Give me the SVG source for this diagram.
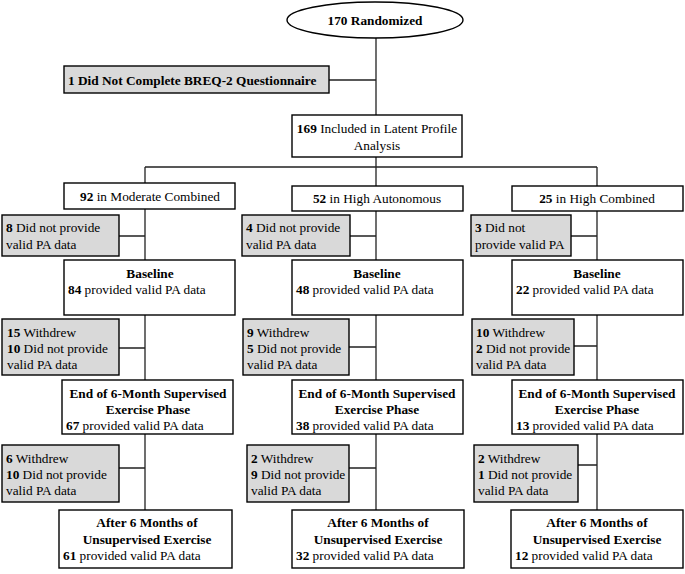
<svg xmlns="http://www.w3.org/2000/svg" width="685" height="574" viewBox="0 0 685 574" font-family="'Liberation Serif', 'Times New Roman', 'DejaVu Serif', serif">
<style>
text{font-family:'Liberation Serif','Times New Roman','DejaVu Serif',serif;font-size:13.3px;fill:#000}
.b{font-weight:bold}
.c{text-anchor:middle}
.box{fill:#fff;stroke:#000;stroke-width:1.4}
.gray{fill:#d9d9d9;stroke:#000;stroke-width:1.4}
.ln{stroke:#222;stroke-width:1.3;fill:none}
</style>
<rect width="685" height="574" fill="#fff"/>
<g id="connectors">
<path class="ln" d="M376 38V115M329 80H376M376 157V187M145 167H597M145 167V183M597 167V186"/>
<path class="ln" d="M145 209V260M119 236H145M145 315V380M119 348H145M145 434V510M119 468H145"/>
<path class="ln" d="M376 211V260M350 236H376M376 315V380M349 347H376M376 434V510M349 468H376"/>
<path class="ln" d="M597 211V260M571 236H597M597 315V380M574 346H597M597 434V510M578 465H597"/>
</g>
<g id="randomized">
<ellipse cx="375" cy="20" rx="88" ry="18" class="box"/>
<text x="375" y="25" class="b c">170 Randomized</text>
</g>
<g id="excluded">
<rect x="64" y="66" width="265" height="27" class="gray"/>
<text x="68" y="85" class="b">1 Did Not Complete BREQ-2 Questionnaire</text>
</g>
<g id="included">
<rect x="292" y="115" width="170" height="42" class="box"/>
<text x="377" y="133" class="c"><tspan class="b">169</tspan> Included in Latent Profile</text>
<text x="377" y="150" class="c">Analysis</text>
</g>
<g id="group1">
<rect x="64" y="183" width="171" height="26" class="box"/>
<text x="150" y="201" class="c"><tspan class="b">92</tspan> in Moderate Combined</text>
</g>
<g id="group2">
<rect x="292" y="186" width="171" height="25" class="box"/>
<text x="377" y="203" class="c"><tspan class="b">52</tspan> in High Autonomous</text>
</g>
<g id="group3">
<rect x="512" y="186" width="171" height="25" class="box"/>
<text x="597" y="203" class="c"><tspan class="b">25</tspan> in High Combined</text>
</g>
<g id="g1-missing1">
<rect x="2" y="215" width="117" height="41" class="gray"/>
<text x="6" y="232"><tspan class="b">8</tspan> Did not provide</text>
<text x="6" y="249">valid PA data</text>
</g>
<g id="g2-missing1">
<rect x="242" y="215" width="108" height="41" class="gray"/>
<text x="246" y="232"><tspan class="b">4</tspan> Did not provide</text>
<text x="246" y="249">valid PA data</text>
</g>
<g id="g3-missing1">
<rect x="471" y="215" width="100" height="41" class="gray"/>
<text x="475" y="232"><tspan class="b">3</tspan> Did not</text>
<text x="475" y="249">provide valid PA</text>
</g>
<g id="g1-baseline">
<rect x="64" y="260" width="171" height="55" class="box"/>
<text x="150" y="278" class="b c">Baseline</text>
<text x="68" y="294"><tspan class="b">84</tspan> provided valid PA data</text>
</g>
<g id="g2-baseline">
<rect x="292" y="260" width="171" height="55" class="box"/>
<text x="377" y="278" class="b c">Baseline</text>
<text x="296" y="294"><tspan class="b">48</tspan> provided valid PA data</text>
</g>
<g id="g3-baseline">
<rect x="512" y="260" width="171" height="55" class="box"/>
<text x="597" y="278" class="b c">Baseline</text>
<text x="516" y="294"><tspan class="b">22</tspan> provided valid PA data</text>
</g>
<g id="g1-missing2">
<rect x="2" y="319" width="117" height="56" class="gray"/>
<text x="7" y="337"><tspan class="b">15</tspan> Withdrew</text>
<text x="7" y="353"><tspan class="b">10</tspan> Did not provide</text>
<text x="7" y="369">valid PA data</text>
</g>
<g id="g2-missing2">
<rect x="243" y="319" width="106" height="56" class="gray"/>
<text x="247" y="337"><tspan class="b">9</tspan> Withdrew</text>
<text x="247" y="353"><tspan class="b">5</tspan> Did not provide</text>
<text x="247" y="369">valid PA data</text>
</g>
<g id="g3-missing2">
<rect x="472" y="319" width="102" height="56" class="gray"/>
<text x="476" y="337"><tspan class="b">10</tspan> Withdrew</text>
<text x="476" y="353"><tspan class="b">2</tspan> Did not provide</text>
<text x="476" y="369">valid PA data</text>
</g>
<g id="g1-end">
<rect x="62" y="380" width="171" height="54" class="box"/>
<text x="148" y="398" class="b c">End of 6-Month Supervised</text>
<text x="148" y="414" class="b c">Exercise Phase</text>
<text x="66" y="430"><tspan class="b">67</tspan> provided valid PA data</text>
</g>
<g id="g2-end">
<rect x="292" y="380" width="171" height="54" class="box"/>
<text x="377" y="398" class="b c">End of 6-Month Supervised</text>
<text x="377" y="414" class="b c">Exercise Phase</text>
<text x="296" y="430"><tspan class="b">38</tspan> provided valid PA data</text>
</g>
<g id="g3-end">
<rect x="512" y="380" width="171" height="54" class="box"/>
<text x="597" y="398" class="b c">End of 6-Month Supervised</text>
<text x="597" y="414" class="b c">Exercise Phase</text>
<text x="516" y="430"><tspan class="b">13</tspan> provided valid PA data</text>
</g>
<g id="g1-missing3">
<rect x="2" y="445" width="117" height="57" class="gray"/>
<text x="6" y="463"><tspan class="b">6</tspan> Withdrew</text>
<text x="6" y="479"><tspan class="b">10</tspan> Did not provide</text>
<text x="6" y="495">valid PA data</text>
</g>
<g id="g2-missing3">
<rect x="247" y="445" width="102" height="57" class="gray"/>
<text x="251" y="463"><tspan class="b">2</tspan> Withdrew</text>
<text x="251" y="479"><tspan class="b">9</tspan> Did not provide</text>
<text x="251" y="495">valid PA data</text>
</g>
<g id="g3-missing3">
<rect x="474" y="445" width="104" height="57" class="gray"/>
<text x="478" y="463"><tspan class="b">2</tspan> Withdrew</text>
<text x="478" y="479"><tspan class="b">1</tspan> Did not provide</text>
<text x="478" y="495">valid PA data</text>
</g>
<g id="g1-after">
<rect x="59" y="510" width="173" height="58" class="box"/>
<text x="147" y="527" class="b c">After 6 Months of</text>
<text x="147" y="544" class="b c">Unsupervised Exercise</text>
<text x="63" y="560"><tspan class="b">61</tspan> provided valid PA data</text>
</g>
<g id="g2-after">
<rect x="292" y="510" width="172" height="58" class="box"/>
<text x="378" y="527" class="b c">After 6 Months of</text>
<text x="378" y="544" class="b c">Unsupervised Exercise</text>
<text x="296" y="560"><tspan class="b">32</tspan> provided valid PA data</text>
</g>
<g id="g3-after">
<rect x="511" y="510" width="172" height="58" class="box"/>
<text x="597" y="527" class="b c">After 6 Months of</text>
<text x="597" y="544" class="b c">Unsupervised Exercise</text>
<text x="515" y="560"><tspan class="b">12</tspan> provided valid PA data</text>
</g>
</svg>
